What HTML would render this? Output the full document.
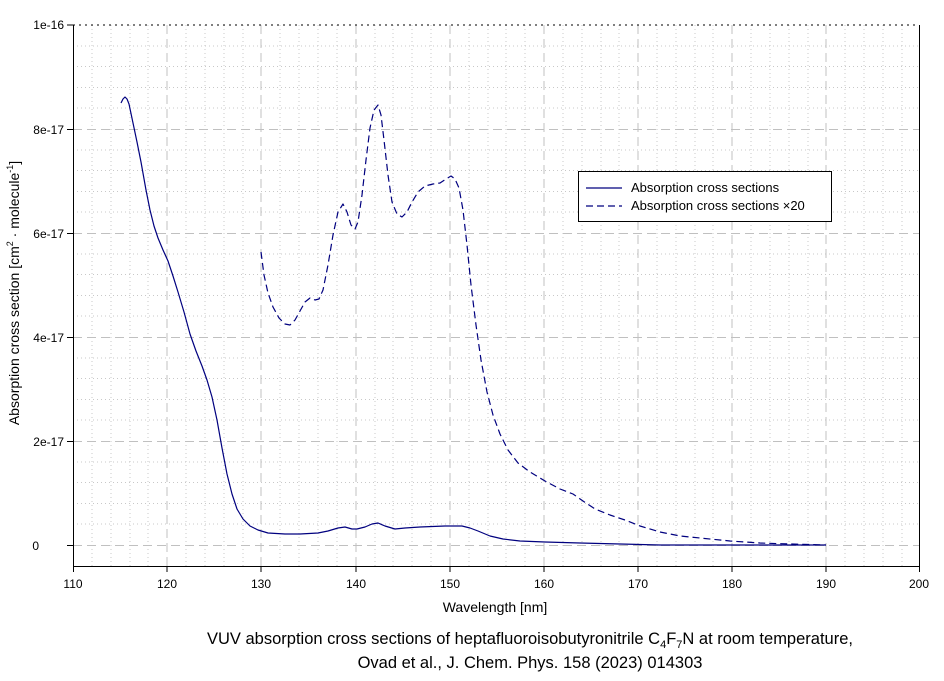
<!DOCTYPE html>
<html><head><meta charset="utf-8"><style>
body{margin:0;background:#fff;}
svg text{font-family:"Liberation Sans",sans-serif;fill:#000;}
</style></head><body>
<svg width="944" height="676" viewBox="0 0 944 676" xmlns="http://www.w3.org/2000/svg">
<rect width="944" height="676" fill="#fff"/>
<g stroke="#c8c8c8" stroke-width="1" stroke-dasharray="1,3">
<path d="M92 25V566M111 25V566M130 25V566M148 25V566M186 25V566M205 25V566M224 25V566M243 25V566M280 25V566M299 25V566M318 25V566M337 25V566M375 25V566M393 25V566M412 25V566M431 25V566M469 25V566M488 25V566M506 25V566M525 25V566M563 25V566M582 25V566M601 25V566M619 25V566M657 25V566M676 25V566M695 25V566M713 25V566M751 25V566M770 25V566M789 25V566M808 25V566M845 25V566M864 25V566M883 25V566M902 25V566"/>
<path d="M73 46H919M73 66.5H919M73 87.5H919M73 108H919M73 150H919M73 170.5H919M73 191.5H919M73 212H919M73 254H919M73 274.5H919M73 295.5H919M73 316H919M73 358H919M73 378.5H919M73 399.5H919M73 420H919M73 462H919M73 482.5H919M73 503.5H919M73 524H919"/>
</g>
<g stroke="#c0c0c0" stroke-width="1" stroke-dasharray="9,5">
<path d="M167 25V566M261 25V566M356 25V566M450 25V566M544 25V566M638 25V566M732 25V566M826 25V566"/>
<path d="M73 129.5H919M73 233.5H919M73 337.5H919M73 441.5H919M73 545.5H919"/>
</g>
<path d="M73 25H919" stroke="#000" stroke-dasharray="2,4"/>
<path d="M73.5 25V566.5H919.5V25" stroke="#000" fill="none"/>
<g stroke="#000"><path d="M67 25H73M67 129.5H73M67 233.5H73M67 337.5H73M67 441.5H73M67 545.5H73"/>
<path d="M73.5 566V572M167 566V572M261 566V572M356 566V572M450 566V572M544 566V572M638 566V572M732 566V572M826 566V572M919.5 566V572"/></g>
<g font-size="12" text-anchor="end">
<text x="64" y="29">1e-16</text><text x="64" y="134">8e-17</text><text x="64" y="238">6e-17</text><text x="64" y="342">4e-17</text><text x="64" y="446">2e-17</text><text x="39" y="550">0</text>
</g>
<g font-size="12" text-anchor="middle">
<text x="73" y="588">110</text><text x="167" y="588">120</text><text x="261" y="588">130</text><text x="356" y="588">140</text><text x="450" y="588">150</text><text x="544" y="588">160</text><text x="638" y="588">170</text><text x="732" y="588">180</text><text x="826" y="588">190</text><text x="919" y="588">200</text>
<text x="495" y="612" font-size="14">Wavelength [nm]</text>
</g>
<text transform="translate(19,293) rotate(-90)" font-size="14" text-anchor="middle">Absorption cross section [cm<tspan font-size="9" dy="-6">2</tspan><tspan dy="6"> · molecule</tspan><tspan font-size="9" dy="-6">-1</tspan><tspan dy="6">]</tspan></text>
<g font-size="16.5" text-anchor="middle">
<text x="530" y="644">VUV absorption cross sections of heptafluoroisobutyronitrile C<tspan font-size="11" dy="4">4</tspan><tspan dy="-4">F</tspan><tspan font-size="11" dy="4">7</tspan><tspan dy="-4">N at room temperature,</tspan></text>
<text x="530" y="668">Ovad et al., J. Chem. Phys. 158 (2023) 014303</text>
</g>
<g fill="none" stroke="#00007f" stroke-width="1.2" stroke-linejoin="round">
<path d="M121 103L123 99L125 97L127 99L129 104L133 123L137 142L141 162L146 190L150 210L154 226L158 238L163 250L168 261L173 276L178 292L184 312L190 334L196 351L202 366L207 380L212 397L217 420L222 448L227 474L232 494L237 509L243 519L250 526L258 530L268 533L285 534L300 534L318 533L328 531L338 528L345 527L352 529L357 529L365 527L372 524L378 523L385 526L395 529L405 528L420 527L445 526L462 526L470 528L478 531L490 536L503 539L520 541L545 542L580 543L620 544L660 545L826 545"/>
<path stroke-dasharray="7,4" d="M261 252L264 275L268 293L273 307L279 318L285 324L290 325L295 320L300 311L305 302L310 298L315 300L319 299L323 290L328 265L333 235L338 212L343 204L347 212L351 225L355 229L358 222L362 195L366 160L370 128L374 110L378 105L381 115L384 140L388 175L392 202L397 214L402 217L407 212L412 202L418 192L425 186L433 184L440 183L446 179L451 176L455 179L459 188L463 210L467 245L471 285L476 325L481 360L487 392L493 415L500 434L508 450L518 463L530 472L545 481L560 489L573 494L583 501L595 509L610 515L625 520L640 526L660 532L680 536L700 538L730 541L760 543L790 544L826 545"/>
</g>
<rect x="578.5" y="171.5" width="253" height="50" fill="#fff" stroke="#000"/>
<path d="M586 188H622" stroke="#00007f" stroke-width="1.2"/>
<path d="M586 206H622" stroke="#00007f" stroke-width="1.2" stroke-dasharray="7,4"/>
<g font-size="13"><text x="631" y="192">Absorption cross sections</text><text x="631" y="210">Absorption cross sections ×20</text></g>
</svg>
</body></html>
